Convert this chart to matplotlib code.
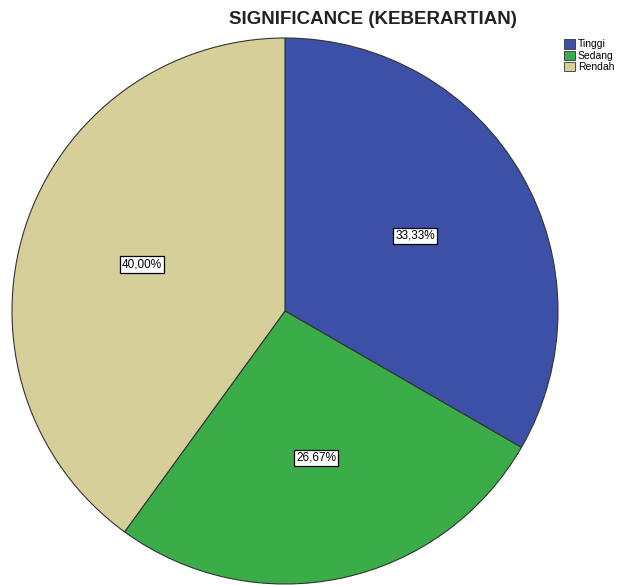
import matplotlib
matplotlib.use("Agg")
import matplotlib.pyplot as plt
from matplotlib.patches import Patch

# data
categories = ["Tinggi", "Sedang", "Rendah"]
values = [33.33, 26.67, 40.00]
pct_labels = ["33,33%", "26,67%", "40,00%"]
colors = ["#3d50a8", "#3aad48", "#d6cf9a"]

W, H = 628, 585
cx, cy, r = 285, 311, 273

fig = plt.figure(figsize=(W / 100, H / 100), dpi=100)
ax = fig.add_axes([0, 0, 1, 1])

wedges, texts, autotexts = ax.pie(
    values, colors=colors, startangle=90, counterclock=False,
    autopct="%1.2f%%", pctdistance=0.55,
    wedgeprops=dict(edgecolor="#333333", linewidth=0.8),
    textprops=dict(fontsize=8.5, family="Liberation Sans"),
)
for t, lab in zip(autotexts, pct_labels):
    t.set_text(lab)
    t.set_bbox(dict(facecolor="white", edgecolor="black", linewidth=0.9, pad=1.5))

# map pixel layout onto data coordinates
ax.set_xlim(-cx / r, (W - cx) / r)
ax.set_ylim((cy - H) / r, cy / r)
ax.set_aspect("equal")
ax.axis("off")

fig.text(373 / W, 1 - 19 / H, "SIGNIFICANCE (KEBERARTIAN)", ha="center", va="center",
         fontsize=13.5, fontweight="bold", family="Liberation Sans", color="#222222")

handles = [Patch(facecolor=c, edgecolor="#333333", linewidth=0.6) for c in colors]
fig.legend(handles, categories, loc="upper left", bbox_to_anchor=(558 / W, 1 - 33 / H),
           frameon=False, handlelength=1.0, handleheight=1.0,
           handletextpad=0.3, labelspacing=0.1, borderpad=0.1,
           prop=dict(family="Liberation Sans", size=7.5))

fig.savefig("out.png", dpi=100, facecolor="white")
